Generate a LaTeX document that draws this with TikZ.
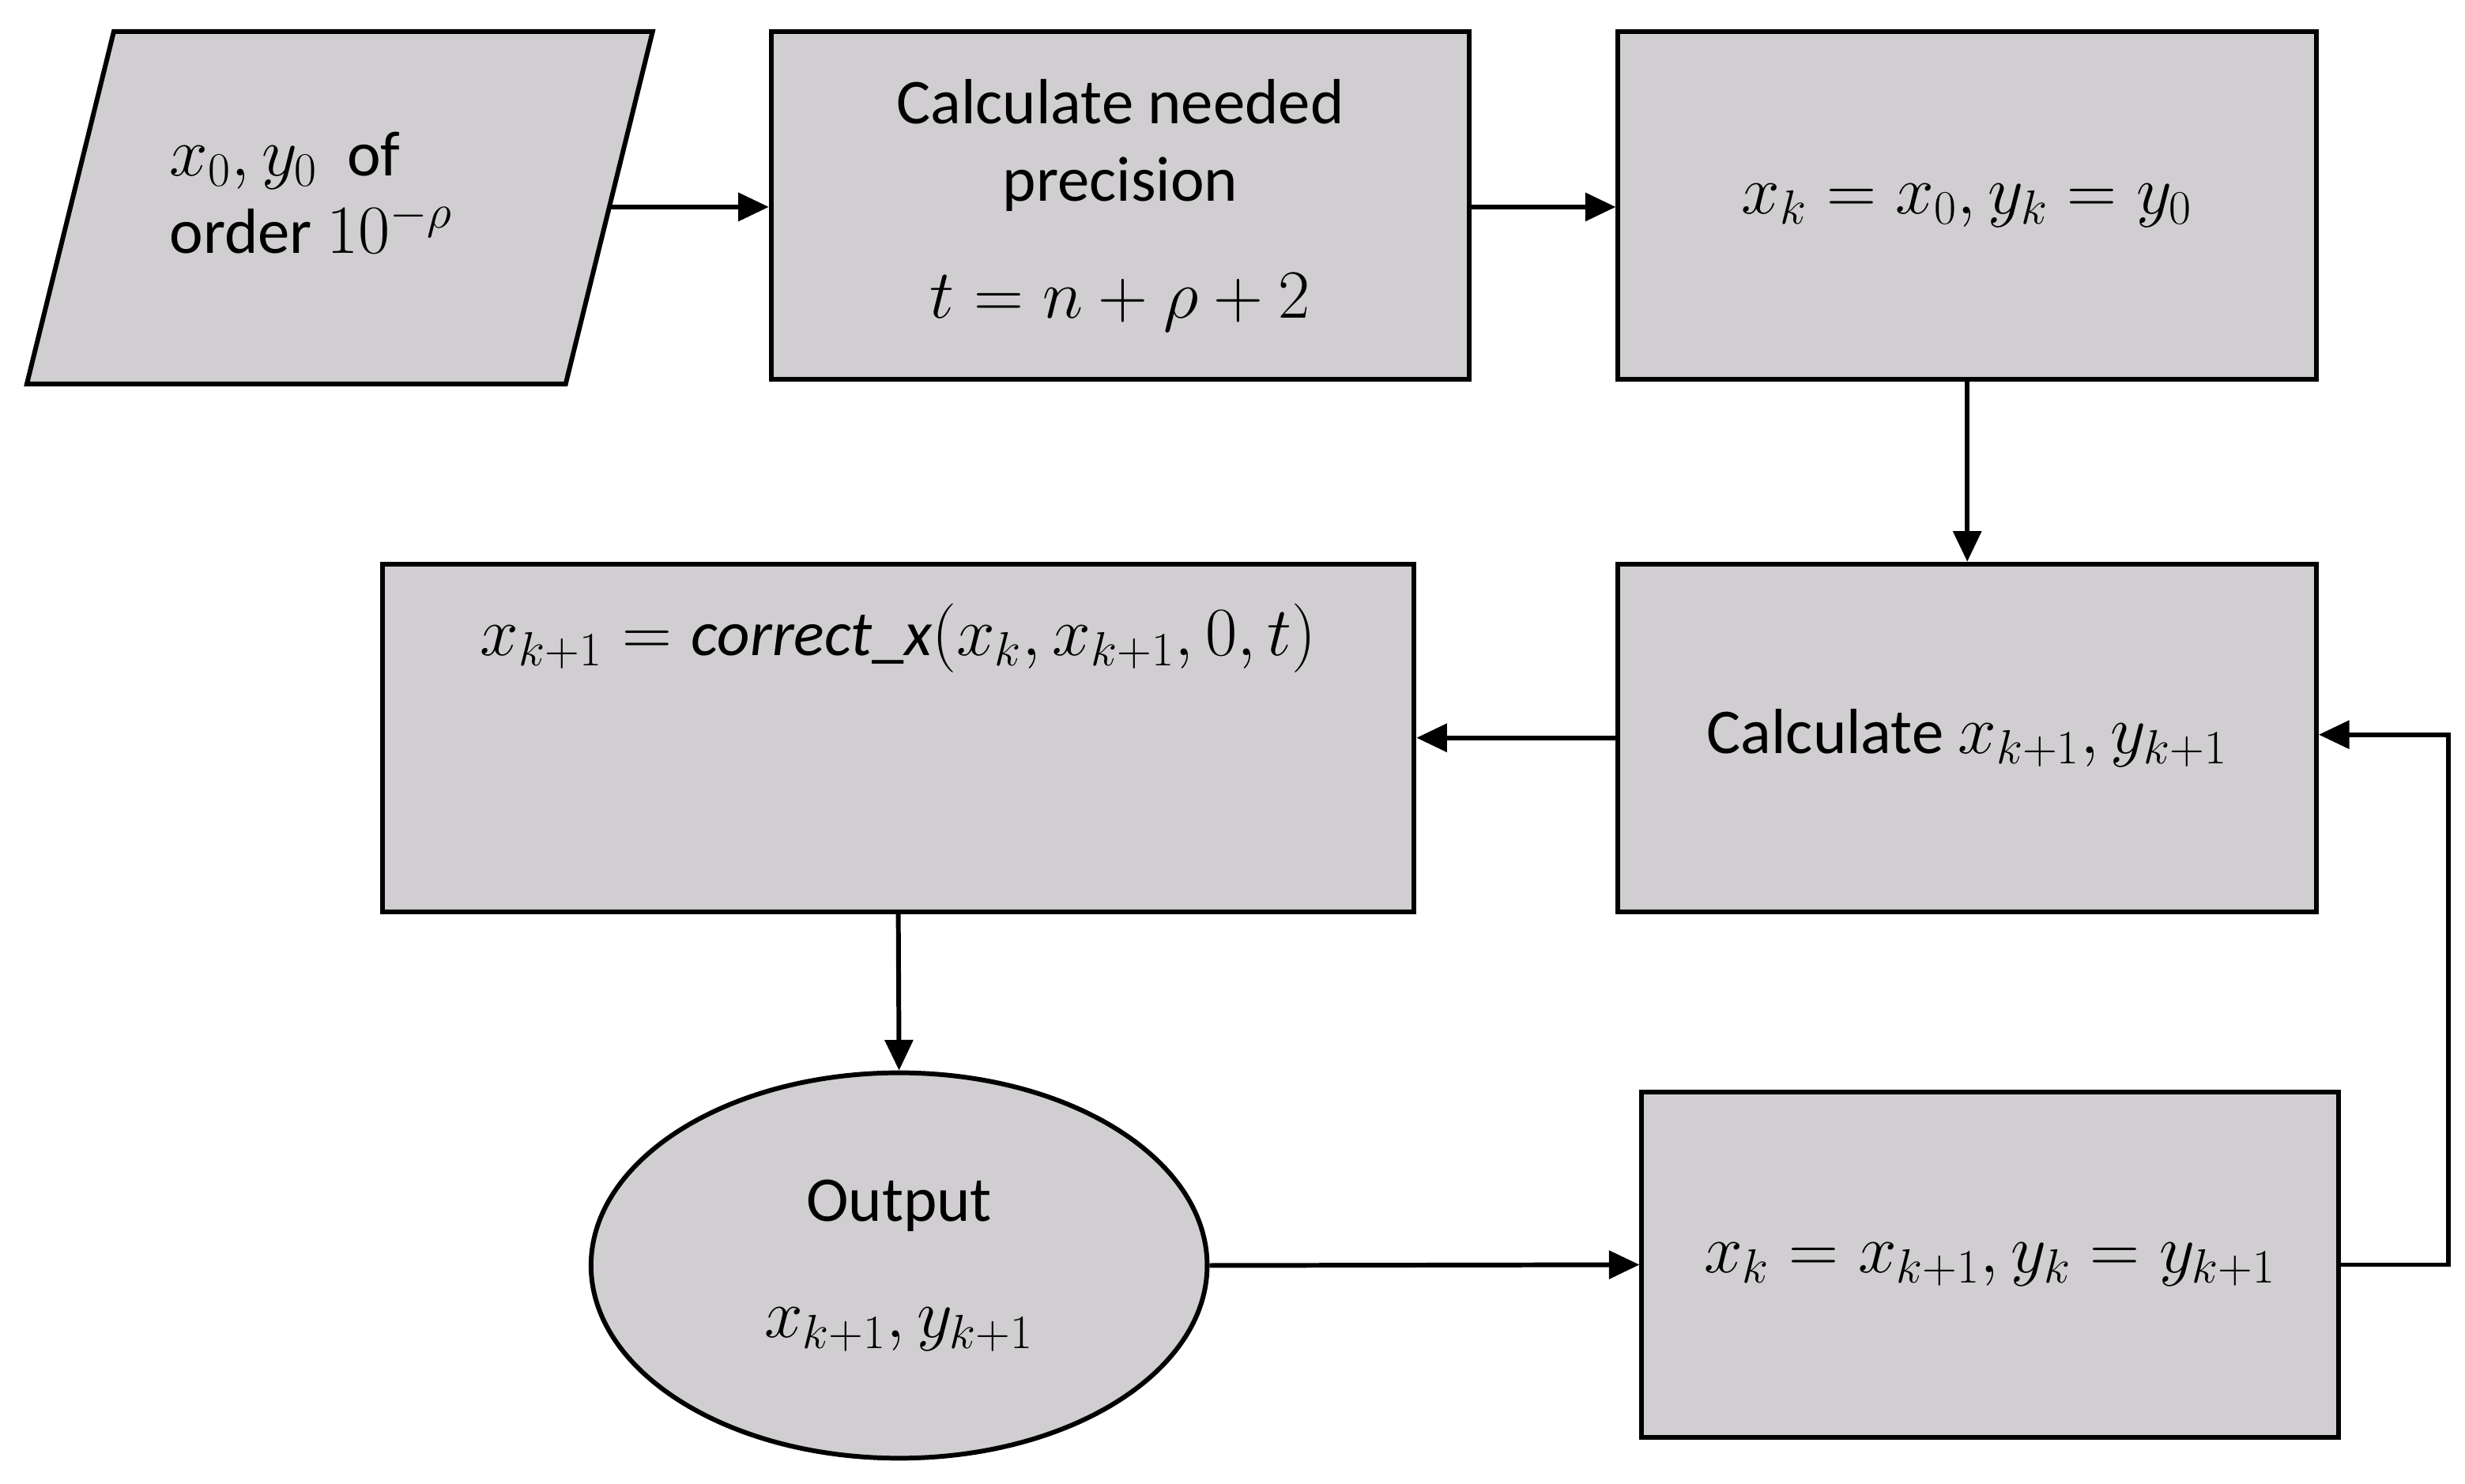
\documentclass[tikz,border=0pt]{standalone}
\usepackage{fontspec}
\setmainfont{Carlito}
\usetikzlibrary{arrows.meta,shapes.geometric}
\definecolor{boxgray}{HTML}{D0CED0}
\tikzset{
  box/.style={draw=black,fill=boxgray,line width=1.7pt,rectangle,align=center,font=\fontsize{23}{28}\selectfont},
  conn/.style={line width=1.7pt,-{Triangle[length=11pt,width=10pt]}}
}
\begin{document}
\begin{tikzpicture}[x=0.02cm,y=-0.02cm]
\useasboundingbox (0,0) rectangle (1560,939);
\draw[line width=1.7pt,fill=boxgray] (72,20) -- (413,20) -- (358,243) -- (17,243) -- cycle;
\node[font=\fontsize{23}{28}\selectfont,align=left] (in) at (197,122) {$x_0, y_0$\ \ of\\order $10^{-\rho}$};
\coordinate (inr) at (386,131);
\node[box,minimum width=8.84cm,minimum height=4.4cm] (a) at (709,130) {Calculate needed\\precision\\[14pt] $t=n+\rho+2$};
\node[box,minimum width=8.84cm,minimum height=4.4cm] (b) at (1245,130) {$x_k=x_0, y_k=y_0$};
\node[box,minimum width=8.84cm,minimum height=4.4cm] (c) at (1245,467) {Calculate $x_{k+1}, y_{k+1}$};
\node[box,minimum width=13.06cm,minimum height=4.4cm] (d) at (568.5,467) {$x_{k+1}=\mathit{correct\_x}(x_k,x_{k+1},0,t)$\\[50pt]};
\node[box,ellipse,minimum width=7.8cm,minimum height=4.88cm,inner sep=0pt] (e) at (569,801) {Output\\[14pt] $x_{k+1}, y_{k+1}$};
\node[box,minimum width=8.82cm,minimum height=4.38cm] (f) at (1259.5,800.5) {$x_k=x_{k+1}, y_k=y_{k+1}$};
\draw[conn] (inr) -- (a.west |- inr);
\draw[conn] (a.east |- inr) -- (b.west |- inr);
\draw[conn] (b.south) -- (c.north);
\draw[conn] (c.west) -- (d.east);
\draw[conn] (d.south) -- (e.north);
\draw[conn] (e.east) -- (f.west);
\draw[conn] (f.east) -- ++(68,0) |- ([yshift=0.04cm]c.east);
\end{tikzpicture}
\end{document}
